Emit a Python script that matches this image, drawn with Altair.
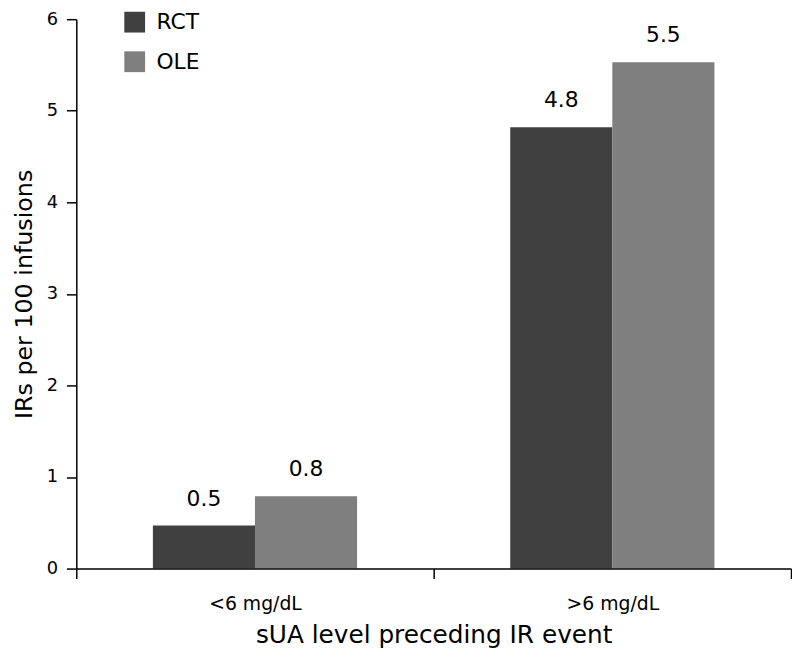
import altair as alt
import pandas as pd

categories = ["<6 mg/dL", "<6 mg/dL", ">6 mg/dL", ">6 mg/dL"]
series = ["RCT", "OLE", "RCT", "OLE"]
values = [0.47, 0.79, 4.82, 5.53]
labels = ["0.5", "0.8", "4.8", "5.5"]

df = pd.DataFrame({"cat": categories, "series": series, "value": values, "label": labels})

FONT = "DejaVu Sans"

x = alt.X(
    "cat:N",
    sort=["<6 mg/dL", ">6 mg/dL"],
    scale=alt.Scale(paddingInner=0, paddingOuter=0),
    axis=alt.Axis(
        title="sUA level preceding IR event",
        labelAngle=0,
        tickBand="extent",
        tickSize=10,
        tickWidth=1.5,
        domainWidth=1.5,
        domainColor="black",
        tickColor="black",
        labelColor="black",
        labelFont=FONT,
        labelFontSize=19,
        labelPadding=16,
        titleFont=FONT,
        titleFontSize=25,
        titleFontWeight="normal",
        titleColor="black",
        titleBaseline="alphabetic",
        titleY=75,
        zindex=1,
    ),
)

xoff = alt.XOffset(
    "series:N",
    sort=["RCT", "OLE"],
    scale=alt.Scale(paddingInner=0, paddingOuter=0.75),
)

y = alt.Y(
    "value:Q",
    scale=alt.Scale(domain=[0, 6], nice=False),
    axis=alt.Axis(
        title="IRs per 100 infusions",
        values=[0, 1, 2, 3, 4, 5, 6],
        grid=False,
        tickSize=10,
        tickWidth=1.5,
        domainWidth=1.5,
        domainColor="black",
        tickColor="black",
        labelColor="black",
        labelFont=FONT,
        labelFontSize=18,
        labelPadding=9,
        titleFont=FONT,
        titleFontSize=24,
        titleFontWeight="normal",
        titleColor="black",
        titleBaseline="alphabetic",
        titleX=-45,
        zindex=1,
    ),
)

color = alt.Color(
    "series:N",
    sort=["RCT", "OLE"],
    scale=alt.Scale(domain=["RCT", "OLE"], range=["#404040", "#7f7f7f"]),
    legend=alt.Legend(
        title=None,
        orient="none",
        legendX=48,
        legendY=-8,
        symbolType="square",
        symbolSize=441,
        symbolStrokeWidth=0,
        labelFont=FONT,
        labelFontSize=22,
        labelColor="black",
        labelOffset=11,
        rowPadding=18,
        padding=0,
    ),
)

bars = alt.Chart(df).mark_bar(opacity=1).encode(x=x, xOffset=xoff, y=y, color=color)

text = alt.Chart(df).mark_text(
    font=FONT, fontSize=22, color="black", baseline="alphabetic", dy=-20
).encode(x=x, xOffset=xoff, y=y, text="label:N")

chart = (
    alt.layer(bars, text)
    .properties(
        width=722,
        height=555,
        autosize=alt.AutoSizeParams(type="none"),
        padding={"left": 69, "top": 8, "right": 1, "bottom": 83},
    )
    .configure_view(stroke=None)
)

chart.save("out.html", embed_options={"renderer": "svg", "actions": False})
